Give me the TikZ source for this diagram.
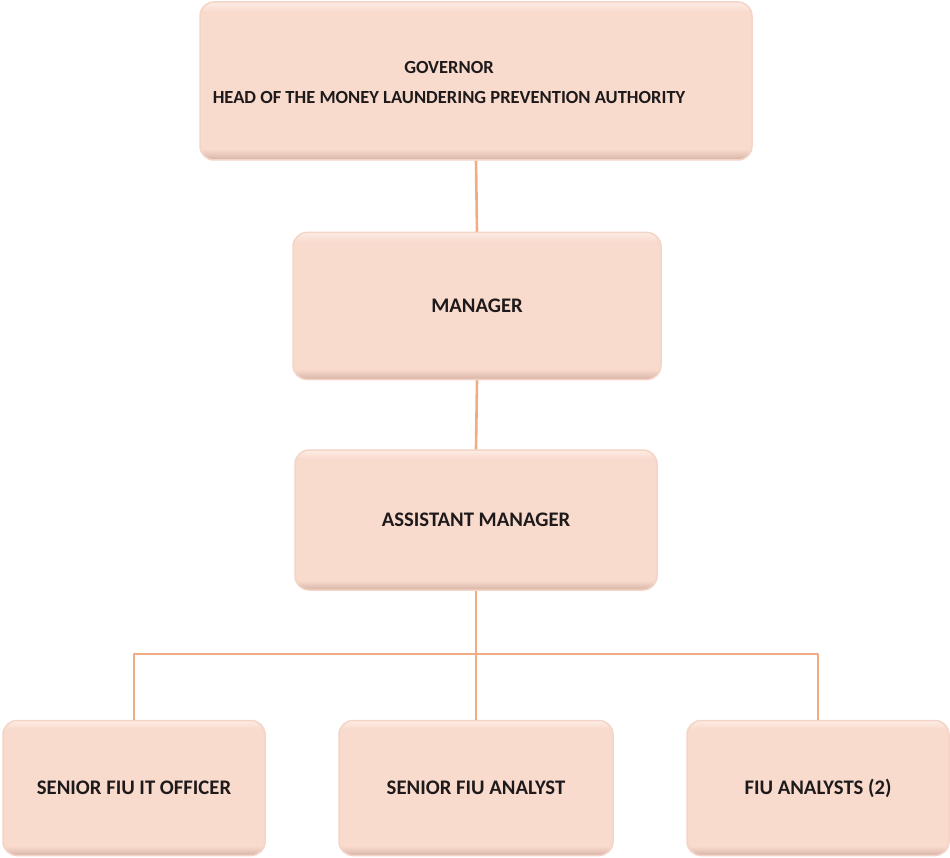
\documentclass[tikz,border=0pt]{standalone}
\usepackage{fontspec}
\setmainfont{Carlito}
\usepackage{tikz}
\usetikzlibrary{positioning}
\definecolor{boxfill}{RGB}{249,219,206}
\definecolor{boxdark}{RGB}{214,180,166}
\definecolor{boxlight}{RGB}{253,236,228}
\definecolor{boxedge}{RGB}{243,212,198}
\definecolor{linkcol}{RGB}{242,172,132}
\definecolor{txtcol}{RGB}{30,26,27}
\pgfdeclareverticalshading{boxbevel}{100bp}{color(0bp)=(boxdark); color(25bp)=(boxdark); color(28.5bp)=(boxfill); color(72bp)=(boxfill); color(75bp)=(boxlight); color(100bp)=(boxlight)}

\begin{document}
\begin{tikzpicture}[line cap=round,line join=round,x=1pt,y=1pt]
\tikzset{
  orgbox/.style={draw=boxedge,line width=1.5pt,shading=boxbevel,rounded corners=14pt,
    inner sep=0pt,align=center,text=txtcol,font=\fontsize{20.7}{30}\selectfont\bfseries},
  link/.style={draw=linkcol,line width=2.6pt,line cap=butt}
}
\useasboundingbox (0,0) rectangle (950,-858);
% boxes
\node[orgbox,minimum width=552,minimum height=158,
  label={[xshift=-27pt,yshift=-2pt,align=center,text=txtcol,font=\fontsize{18.5}{30}\selectfont\bfseries]center:GOVERNOR\\HEAD OF THE MONEY LAUNDERING PREVENTION AUTHORITY}] (gov) at (476,-81) {};
\node[orgbox,minimum width=368,minimum height=147] (mgr) at (477,-306) {MANAGER};
\node[orgbox,minimum width=362,minimum height=140] (asst) at (476,-520) {ASSISTANT MANAGER};
\node[orgbox,minimum width=262,minimum height=135] (itoff) at (134,-788) {SENIOR FIU IT OFFICER};
\node[orgbox,minimum width=274,minimum height=135] (senan) at (476,-788) {SENIOR FIU ANALYST};
\node[orgbox,minimum width=262,minimum height=135] (analysts) at (818,-788) {FIU ANALYSTS (2)};
\coordinate (bus) at (476,-654);
% connectors
\draw[link] (gov.south) -- (mgr.north);
\draw[link] (mgr.south) -- (asst.north);
\draw[link] (asst.south) -- (senan.north);
\draw[link] (itoff.north) |- (bus) -| (analysts.north);
\end{tikzpicture}
\end{document}
